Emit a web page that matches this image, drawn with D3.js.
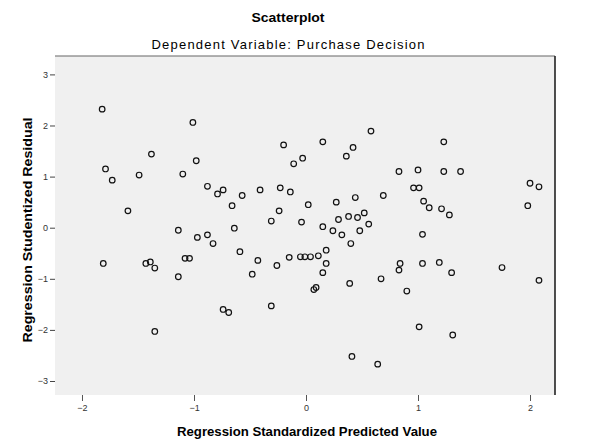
<!DOCTYPE html>
<html>
<head>
<meta charset="utf-8">
<script src="https://cdn.jsdelivr.net/npm/d3@7"></script>
<style>
  body { margin: 0; background: #fff; }
  text { font-family: "Liberation Sans", Arial, sans-serif; }
</style>
</head>
<body>
<div id="chart"></div>
<script>
// chart data
const predicted = [
  -1.82, -1.01, -0.20, 0.15, -1.38, -0.98, -0.11, -0.03, -1.79, -1.73,
  -1.49, -1.10, -0.88, -0.79, -0.74, -0.57, -0.41, -0.23, -0.14, -0.66,
  -0.24, 0.02, -1.59, -0.31, -0.04, 0.15, -0.64, -1.14, 0.58, 0.42,
  0.36, 1.23, 0.83, 1.00, 1.23, 1.38, 2.00, 2.08, 0.96, 1.01,
  1.05, 1.10, 1.21, 1.28, 1.98, 0.27, 0.44, 0.69, 0.29, 0.38,
  0.46, 0.52, 0.56, 0.24, 0.48, 0.32, 0.40, 0.18, -0.05, -0.01,
  0.04, 0.11, 0.18, 0.15, 0.07, 0.09, 0.84, 0.83, 1.04, 1.19,
  1.30, 1.04, 1.75, 2.08, 0.39, 0.67, 0.90, 1.01, 1.31, 0.41,
  0.64, -0.97, -0.88, -0.83, -0.59, -0.43, -0.26, -0.15, -1.81, -1.43,
  -1.39, -1.35, -1.08, -1.04, -1.14, -0.48, -0.74, -0.69, -0.31, -1.35
]
const residual = [
  2.32, 2.06, 1.62, 1.68, 1.44, 1.31, 1.25, 1.36, 1.15, 0.93,
  1.03, 1.05, 0.81, 0.66, 0.74, 0.63, 0.74, 0.78, 0.70, 0.43,
  0.33, 0.45, 0.33, 0.13, 0.11, 0.02, -0.01, -0.05, 1.89, 1.57,
  1.40, 1.68, 1.10, 1.13, 1.10, 1.10, 0.87, 0.80, 0.78, 0.78,
  0.52, 0.39, 0.37, 0.25, 0.43, 0.50, 0.59, 0.63, 0.16, 0.22,
  0.20, 0.29, 0.07, -0.06, -0.06, -0.14, -0.31, -0.44, -0.57, -0.57,
  -0.57, -0.55, -0.70, -0.88, -1.21, -1.17, -0.70, -0.83, -0.70, -0.68,
  -0.88, -0.13, -0.78, -1.03, -1.09, -1.00, -1.24, -1.94, -2.10, -2.52,
  -2.67, -0.19, -0.14, -0.31, -0.47, -0.64, -0.74, -0.58, -0.70, -0.70,
  -0.67, -0.79, -0.60, -0.60, -0.96, -0.91, -1.60, -1.66, -1.53, -2.03
]
const xTicks = [-2, -1, 0, 1, 2]
const yTicks = [-3, -2, -1, 0, 1, 2, 3]

const title = 'Scatterplot'
const subtitle = 'Dependent Variable: Purchase Decision'
const xLabel = 'Regression Standardized Predicted Value'
const yLabel = 'Regression Studentized Residual'

// canvas
const width = 592,
  height = 443
const plot = { left: 55, right: 555, top: 56, bottom: 395 }

let svg = d3.select('#chart')
  .append('svg')
  .attr('width', width)
  .attr('height', height)
  .style('background', '#fff')

const xScale = d3.scaleLinear()
  .domain([-2.241, 2.223])
  .range([plot.left, plot.right])

const yScale = d3.scaleLinear()
  .domain([-3.274, 3.36])
  .range([plot.bottom, plot.top])

// plot background + frame
svg.append('rect')
  .attr('x', plot.left)
  .attr('y', plot.top)
  .attr('width', plot.right - plot.left)
  .attr('height', plot.bottom - plot.top)
  .attr('fill', '#f0f0f0')

svg.append('line')
  .attr('x1', plot.left).attr('x2', plot.right)
  .attr('y1', plot.top).attr('y2', plot.top)
  .attr('stroke', '#666').attr('stroke-width', 1.2)

svg.append('line')
  .attr('x1', plot.right).attr('x2', plot.right)
  .attr('y1', plot.top).attr('y2', plot.bottom)
  .attr('stroke', '#222').attr('stroke-width', 1.6)

// axes
let yAxis = svg.append('g')
  .attr('transform', `translate(${plot.left}, 0)`)
  .call(d3.axisLeft(yScale).tickValues(yTicks).tickSize(5).tickPadding(2).tickFormat(d3.format('d')))
yAxis.select('.domain').remove()
yAxis.selectAll('line').attr('stroke', '#444')
yAxis.selectAll('text')
  .attr('fill', '#333')
  .style('font-size', '9px')
  .style('font-family', '"Liberation Sans", Arial, sans-serif')

let xAxis = svg.append('g')
  .attr('transform', `translate(0, ${plot.bottom})`)
  .call(d3.axisBottom(xScale).tickValues(xTicks).tickSize(6).tickPadding(4).tickFormat(d3.format('d')))
xAxis.select('.domain').remove()
xAxis.selectAll('line').attr('stroke', '#555')
xAxis.selectAll('text')
  .attr('fill', '#333')
  .style('font-size', '9px')
  .style('font-family', '"Liberation Sans", Arial, sans-serif')

// points
svg.append('g')
  .selectAll('circle')
  .data(predicted.map((d, i) => [d, residual[i]]))
  .enter()
  .append('circle')
  .attr('cx', d => xScale(d[0]))
  .attr('cy', d => yScale(d[1]))
  .attr('r', 2.8)
  .attr('fill', 'none')
  .attr('stroke', '#111')
  .attr('stroke-width', 1.2)

// titles
svg.append('text')
  .attr('x', 288).attr('y', 22)
  .attr('text-anchor', 'middle')
  .style('font-size', '13px').style('font-weight', 'bold')
  .attr('textLength', 73).attr('lengthAdjust', 'spacingAndGlyphs')
  .text(title)

svg.append('text')
  .attr('x', 288).attr('y', 49)
  .attr('text-anchor', 'middle')
  .style('font-size', '13px')
  .attr('textLength', 273).attr('lengthAdjust', 'spacing')
  .text(subtitle)

svg.append('text')
  .attr('x', 307).attr('y', 436)
  .attr('text-anchor', 'middle')
  .style('font-size', '12.5px').style('font-weight', 'bold')
  .attr('textLength', 260).attr('lengthAdjust', 'spacingAndGlyphs')
  .text(xLabel)

svg.append('text')
  .attr('transform', 'translate(32, 230) rotate(-90)')
  .attr('text-anchor', 'middle')
  .style('font-size', '12.5px').style('font-weight', 'bold')
  .attr('textLength', 225).attr('lengthAdjust', 'spacingAndGlyphs')
  .text(yLabel)
</script>
</body>
</html>
